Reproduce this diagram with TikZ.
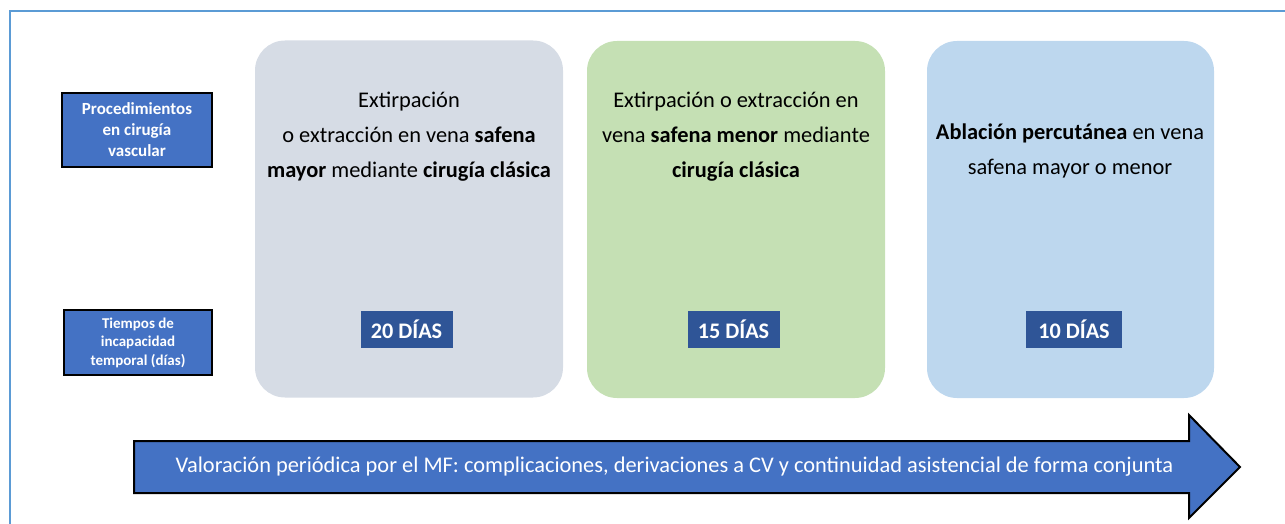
\documentclass[tikz,border=0pt]{standalone}
\usepackage{fontspec}
\setmainfont{Carlito}
\usepackage{xcolor}
\usepackage{tikz}

\definecolor{frameblue}{HTML}{5B9BD5}
\definecolor{labelblue}{HTML}{4472C4}
\definecolor{daysblue}{HTML}{2F5597}
\definecolor{cardgray}{HTML}{D6DCE5}
\definecolor{cardgreen}{HTML}{C5E0B4}
\definecolor{cardblue}{HTML}{BDD7EE}

\tikzset{
    rowlabel/.style={draw=black, line width=2pt, fill=labelblue, text=white,
        font=\bfseries, align=center, inner sep=0pt},
    card/.style={rounded corners=30pt, inner sep=0pt, minimum width=#1, minimum height=357pt},
    cardtext/.style={align=center, font=\fontsize{22.4}{35}\selectfont},
    daysbox/.style={fill=daysblue, text=white, font=\fontsize{22.2}{24}\selectfont\bfseries,
        minimum width=92pt, minimum height=37pt, inner sep=0pt},
}

\begin{document}
\begin{tikzpicture}[x=1pt, y=-1pt]
    \useasboundingbox (0,0) rectangle (1285,524);

    % Frame
    \draw[frameblue, line width=2.5pt] (1300,11) -- (10,11) -- (10,540);

    % Row labels
    \node[rowlabel, minimum width=150pt, minimum height=74pt,
        font=\fontsize{17}{21}\selectfont\bfseries] (procs) at (137,130)
        {Procedimientos\\en cirugía\\vascular};
    \node[rowlabel, minimum width=148pt, minimum height=65pt,
        font=\fontsize{15}{18.5}\selectfont\bfseries] (times) at (138,342.5)
        {Tiempos de\\incapacidad\\temporal (días)};

    % Cards
    \node[card=308pt, fill=cardgray] (mayor) at (409,219) {};
    \node[cardtext] (mayortxt) at (409,137)
        {Extirpación\\o extracción en vena \textbf{safena}\\\textbf{mayor} mediante \textbf{cirugía clásica}};
    \node[daysbox] (mayordays) at (406.5,329.5) {20 DÍAS};

    \node[card=298pt, fill=cardgreen] (menor) at (736,219.5) {};
    \node[cardtext] (menortxt) at (736,137)
        {Extirpación o extracción en\\vena \textbf{safena menor} mediante\\\textbf{cirugía clásica}};
    \node[daysbox] (menordays) at (733.5,329.5) {15 DÍAS};

    \node[card=287pt, fill=cardblue] (ablacion) at (1070.5,219.5) {};
    \node[cardtext] (ablaciontxt) at (1070,150.5)
        {\textbf{Ablación percutánea} en vena\\safena mayor o menor};
    \node[daysbox, minimum width=96pt] (ablaciondays) at (1074,329.5) {10 DÍAS};

    % Follow-up arrow
    \draw[draw=black, line width=2pt, fill=labelblue, line join=miter]
        (134,441) -- (1189,441) -- (1189,415) -- (1240,467)
        -- (1189,518) -- (1189,493) -- (134,493) -- cycle;
    \node[text=white, font=\fontsize{22.4}{26}\selectfont] (followup) at (674.5,467)
        {Valoración periódica por el MF: complicaciones, derivaciones a CV y continuidad asistencial de forma conjunta};
\end{tikzpicture}
\end{document}
